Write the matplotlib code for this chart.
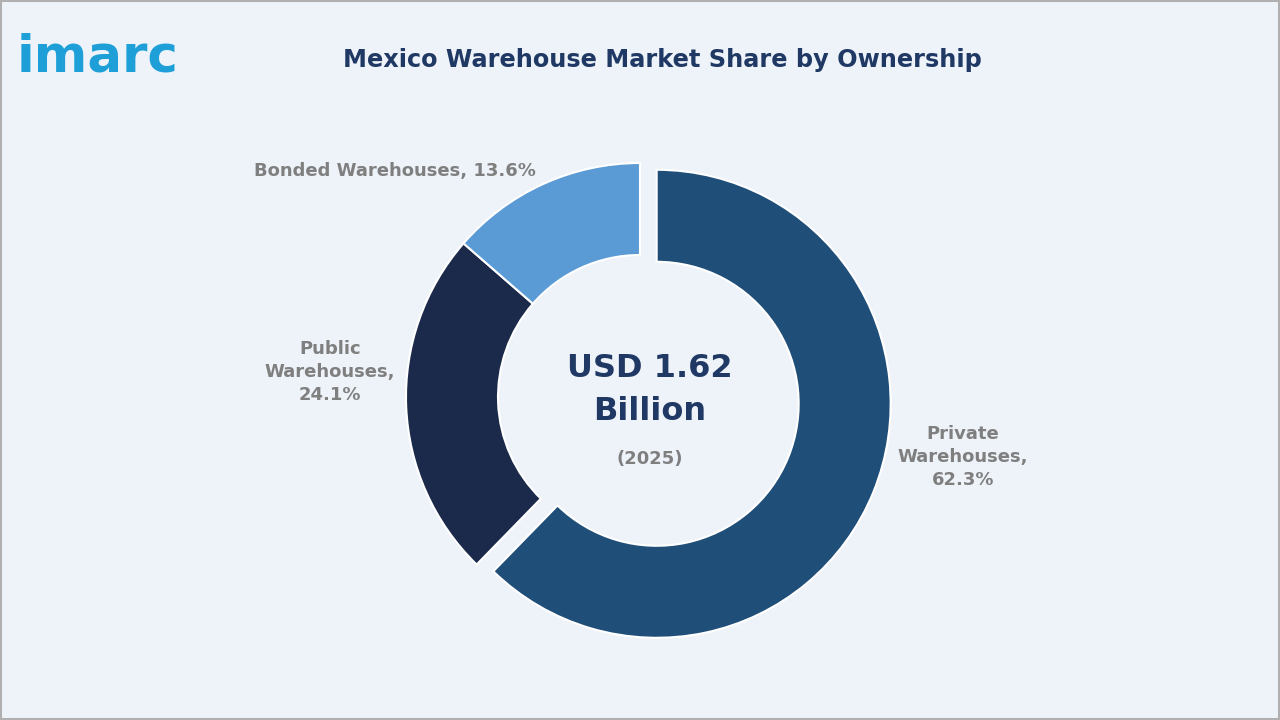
import matplotlib
matplotlib.use("Agg")
import matplotlib.pyplot as plt
from matplotlib.patches import Rectangle

categories = ["Private Warehouses", "Public Warehouses", "Bonded Warehouses"]
shares = [62.3, 24.1, 13.6]
colors = ["#1f4e79", "#1b2a4a", "#5b9bd5"]
explode = [18, 0, 0]

fig = plt.figure(figsize=(12.8, 7.2), dpi=100)
fig.patch.set_facecolor("#eef3f9")
ax = fig.add_axes([0, 0, 1, 1])
ax.add_patch(Rectangle((1, 1), 1278, 718, fill=False, ec="#b0b0b0", lw=1.5))

ax.pie(shares, colors=colors, startangle=90, counterclock=False, center=(640, 323),
       radius=234, explode=explode,
       wedgeprops=dict(width=92, edgecolor="white", linewidth=1.5), frame=True)
ax.set_xlim(0, 1280); ax.set_ylim(0, 720); ax.axis("off")

ax.text(662, 660, "Mexico Warehouse Market Share by Ownership", ha="center", va="center",
        fontsize=17.3, fontweight="bold", color="#1f3864")
ax.text(17, 662, "imarc", ha="left", va="center", fontsize=37, fontweight="bold", color="#1e9fd8")

lab = dict(fontsize=13, fontweight="bold", color="#7f7f7f", linespacing=1.35)
ax.text(395, 549, f"{categories[2]}, {shares[2]}%", ha="center", va="center", **lab)
ax.text(330, 348, f"Public\nWarehouses,\n{shares[1]}%", ha="center", va="center", **lab)
ax.text(963, 263, f"Private\nWarehouses,\n{shares[0]}%", ha="center", va="center", **lab)

ax.text(650, 330, "USD 1.62\nBillion", ha="center", va="center", fontsize=23,
        fontweight="bold", color="#1f3864", linespacing=1.5)
ax.text(650, 261, "(2025)", ha="center", va="center", fontsize=13, fontweight="bold", color="#7f7f7f")

fig.savefig("out.png", dpi=100, facecolor=fig.get_facecolor())
